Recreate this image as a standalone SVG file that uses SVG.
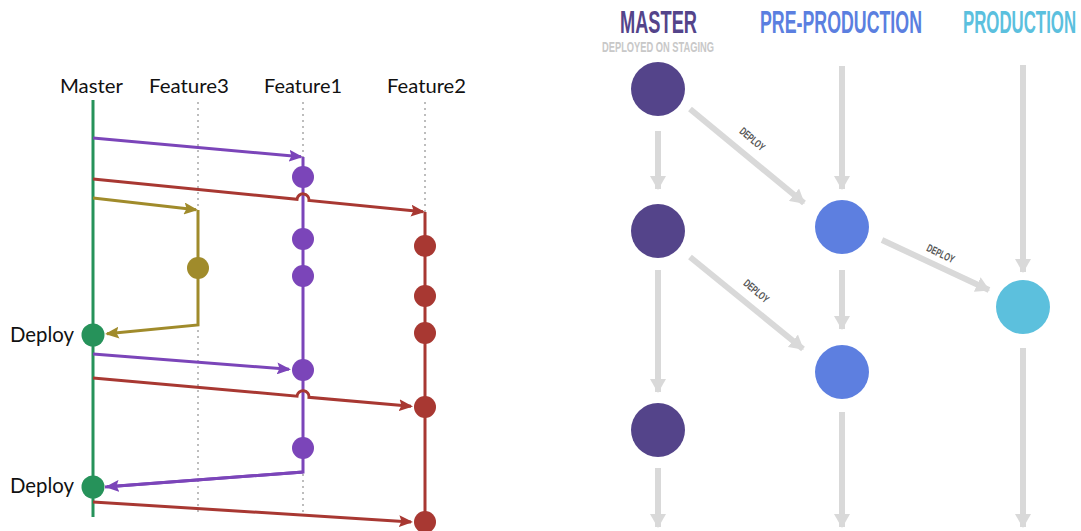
<svg xmlns="http://www.w3.org/2000/svg" width="1081" height="531" viewBox="0 0 1081 531">
  <style>
    .lbl { font-family: "Lato", "Liberation Sans", sans-serif; font-size: 19px; fill: #111; }
    .dep { font-family: "Lato", "Liberation Sans", sans-serif; font-size: 21px; fill: #111; }
    .dot { stroke: #9a9a9a; stroke-width: 1.3; stroke-dasharray: 2 4; fill: none; }
    .ln { fill: none; stroke-width: 3; stroke-linejoin: miter; }
    .green { stroke: #26925a; }
    .purple { stroke: #7b45b9; }
    .red { stroke: #a83832; }
    .olive { stroke: #a08b2b; }
    .head { font-family: "Liberation Sans", "Roboto", sans-serif; font-weight: bold; }
    .gray { stroke: #d9d9d9; stroke-width: 6; fill: none; }
    .tag { font-family: "Liberation Sans", "Roboto", sans-serif; font-weight: bold; font-size: 11px; fill: #555; }
  </style>
  <defs>
    <marker id="ah-purple" markerUnits="userSpaceOnUse" viewBox="0 0 14 12" refX="12" refY="6" markerWidth="14" markerHeight="12" orient="auto">
      <path d="M0,0 L14,6 L0,12 L2.5,6 z" fill="#7b45b9"/>
    </marker>
    <marker id="ah-red" markerUnits="userSpaceOnUse" viewBox="0 0 14 12" refX="12" refY="6" markerWidth="14" markerHeight="12" orient="auto">
      <path d="M0,0 L14,6 L0,12 L2.5,6 z" fill="#a83832"/>
    </marker>
    <marker id="ah-olive" markerUnits="userSpaceOnUse" viewBox="0 0 14 12" refX="12" refY="6" markerWidth="14" markerHeight="12" orient="auto">
      <path d="M0,0 L14,6 L0,12 L2.5,6 z" fill="#a08b2b"/>
    </marker>
    <marker id="ah-gray" markerUnits="userSpaceOnUse" viewBox="0 0 14 16" refX="13" refY="8" markerWidth="14" markerHeight="16" orient="auto">
      <path d="M0,0 L14,8 L0,16 z" fill="#d9d9d9"/>
    </marker>
  </defs>

  <!-- ===== Branch lanes ===== -->
  <g id="branch-labels">
    <text class="lbl" x="60" y="93" textLength="63" lengthAdjust="spacingAndGlyphs">Master</text>
    <text class="lbl" x="149" y="93" textLength="80" lengthAdjust="spacingAndGlyphs">Feature3</text>
    <text class="lbl" x="264" y="93" textLength="78" lengthAdjust="spacingAndGlyphs">Feature1</text>
    <text class="lbl" x="387" y="93" textLength="79" lengthAdjust="spacingAndGlyphs">Feature2</text>
  </g>

  <g id="lane-guides">
    <line class="dot" x1="198" y1="102" x2="198" y2="512"/>
    <line class="dot" x1="303" y1="102" x2="303" y2="512"/>
    <line class="dot" x1="425" y1="102" x2="425" y2="212"/>
  </g>

  <g id="branch-connectors">
    <!-- master trunk -->
    <line class="ln green" x1="93" y1="100" x2="93" y2="517"/>
    <!-- feature1 -->
    <path class="ln purple" d="M93,138 L301,156.8" marker-end="url(#ah-purple)"/>
    <path class="ln purple" d="M303,157 L303,472 L105,487"/>
    <path class="ln purple" d="M93,354 L289,369.3" marker-end="url(#ah-purple)"/>
    <path class="ln purple" d="M303,472 L107,486.8" marker-end="url(#ah-purple)"/>
    <!-- feature2 -->
    <path class="ln red" d="M93,179 L297,199.3 A6,6 0 0 1 309,200.5 L423,211.8" marker-end="url(#ah-red)"/>
    <line class="ln red" x1="425" y1="212" x2="425" y2="531"/>
    <path class="ln red" d="M93,378 L297,396.2 A6,6 0 0 1 309,397.3 L411,406.3" marker-end="url(#ah-red)"/>
    <path class="ln red" d="M93,502 L411,521.9" marker-end="url(#ah-red)"/>
    <!-- feature3 -->
    <path class="ln olive" d="M93,198 L196,209.8" marker-end="url(#ah-olive)"/>
    <path class="ln olive" d="M198,210 L198,325 L107,333.8" marker-end="url(#ah-olive)"/>
  </g>

  <g id="commits-feature1" fill="#7b45b9">
    <circle cx="303" cy="177" r="11"/>
    <circle cx="303" cy="239" r="11"/>
    <circle cx="303" cy="276" r="11"/>
    <circle cx="303" cy="370" r="11"/>
    <circle cx="303" cy="448" r="11"/>
  </g>
  <g id="commits-feature2" fill="#a83832">
    <circle cx="425" cy="246" r="11"/>
    <circle cx="425" cy="296" r="11"/>
    <circle cx="425" cy="333" r="11"/>
    <circle cx="425" cy="407" r="11"/>
    <circle cx="425" cy="522" r="11"/>
  </g>
  <g id="commits-feature3" fill="#a08b2b">
    <circle cx="198" cy="268" r="11"/>
  </g>
  <g id="deploy-1">
    <circle cx="93" cy="335" r="11.5" fill="#26925a"/>
    <text class="dep" x="10" y="342" textLength="64" lengthAdjust="spacingAndGlyphs">Deploy</text>
  </g>
  <g id="deploy-2">
    <circle cx="93" cy="487" r="11.5" fill="#26925a"/>
    <text class="dep" x="10" y="493" textLength="64" lengthAdjust="spacingAndGlyphs">Deploy</text>
  </g>

  <!-- ===== Environment columns (condensed caps via horizontal scaling) ===== -->
  <g id="column-headers">
    <text class="head" transform="translate(620,33) scale(0.6,1)" font-size="31" fill="#54448a" textLength="128.3" lengthAdjust="spacingAndGlyphs">MASTER</text>
    <text class="head" transform="translate(602,52) scale(0.6,1)" font-size="14.5" fill="#c8c8c8" textLength="186.7" lengthAdjust="spacingAndGlyphs">DEPLOYED ON STAGING</text>
    <text class="head" transform="translate(760,33) scale(0.575,1)" font-size="31" fill="#5b7fe0" textLength="281.7" lengthAdjust="spacingAndGlyphs">PRE-PRODUCTION</text>
    <text class="head" transform="translate(963,33) scale(0.55,1)" font-size="31" fill="#5bc0de" textLength="205.5" lengthAdjust="spacingAndGlyphs">PRODUCTION</text>
  </g>

  <g id="env-connectors">
    <path class="gray" d="M658,131 L658,189" marker-end="url(#ah-gray)"/>
    <path class="gray" d="M658,270 L658,392" marker-end="url(#ah-gray)"/>
    <path class="gray" d="M658,468 L658,527" marker-end="url(#ah-gray)"/>
    <path class="gray" d="M842,66 L842,189" marker-end="url(#ah-gray)"/>
    <path class="gray" d="M842,270 L842,329" marker-end="url(#ah-gray)"/>
    <path class="gray" d="M842,412 L842,527" marker-end="url(#ah-gray)"/>
    <path class="gray" d="M1023,65 L1023,272" marker-end="url(#ah-gray)"/>
    <path class="gray" d="M1023,348 L1023,527" marker-end="url(#ah-gray)"/>
    <path class="gray" d="M690,109 L804,203" marker-end="url(#ah-gray)"/>
    <path class="gray" d="M690,257 L803,349" marker-end="url(#ah-gray)"/>
    <path class="gray" d="M882,240 L989,290" marker-end="url(#ah-gray)"/>
    <text class="tag" transform="translate(750,142) rotate(40) scale(0.7,1)" text-anchor="middle" textLength="42" lengthAdjust="spacingAndGlyphs">DEPLOY</text>
    <text class="tag" transform="translate(754,294) rotate(40) scale(0.7,1)" text-anchor="middle" textLength="42" lengthAdjust="spacingAndGlyphs">DEPLOY</text>
    <text class="tag" transform="translate(939,257) rotate(26) scale(0.7,1)" text-anchor="middle" textLength="42" lengthAdjust="spacingAndGlyphs">DEPLOY</text>
  </g>

  <g id="master-commit-1"><circle cx="658" cy="89" r="27" fill="#54448a"/></g>
  <g id="master-commit-2"><circle cx="658" cy="231" r="27" fill="#54448a"/></g>
  <g id="master-commit-3"><circle cx="658" cy="430" r="27" fill="#54448a"/></g>
  <g id="preprod-release-1"><circle cx="842" cy="227" r="27" fill="#5d7fe0"/></g>
  <g id="preprod-release-2"><circle cx="842" cy="372" r="27" fill="#5d7fe0"/></g>
  <g id="production-release-1"><circle cx="1023" cy="307" r="27" fill="#5cc0dd"/></g>
</svg>
